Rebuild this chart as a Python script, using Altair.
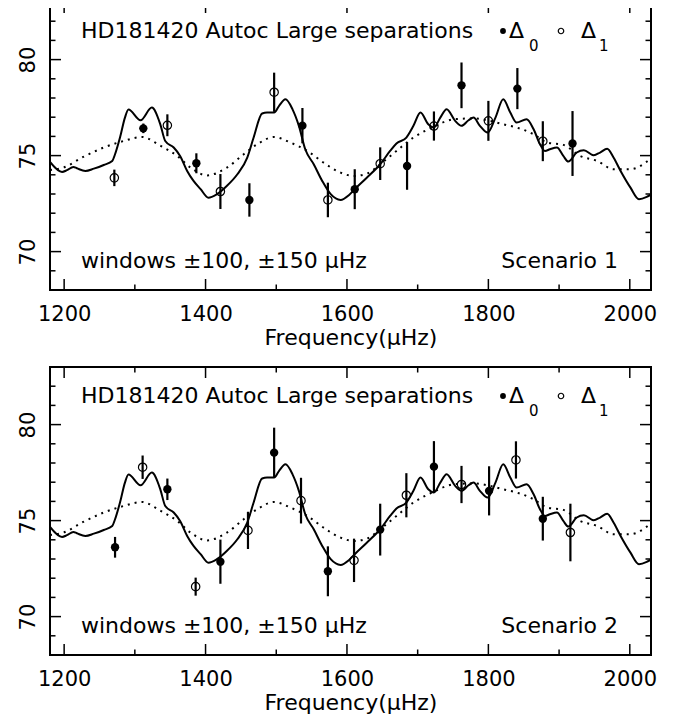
import altair as alt
import pandas as pd

# ---------------- data ----------------
solid_freq = [1180, 1197, 1204, 1213, 1218, 1230, 1242, 1256, 1268, 1272, 1279, 1286, 1291, 1308, 1324,
              1336, 1343, 1355, 1364, 1374, 1383, 1393, 1404, 1416, 1430, 1445, 1459, 1468, 1480, 1487,
              1497, 1504, 1513, 1523, 1532, 1541, 1553, 1565, 1577, 1591, 1603, 1611, 1628, 1647, 1661,
              1670, 1684, 1694, 1704, 1715, 1723, 1732, 1741, 1753, 1762, 1772, 1779, 1788, 1799, 1810,
              1821, 1831, 1840, 1854, 1864, 1873, 1880, 1887, 1897, 1906, 1913, 1925, 1935, 1949, 1958,
              1968, 1977, 1987, 2001, 2013, 2024, 2034]
solid_val = [74.67, 74.15, 74.24, 74.41, 74.34, 74.20, 74.32, 74.51, 74.72, 75.07, 75.94, 76.98, 77.40, 76.84, 77.50,
             76.63, 75.76, 75.42, 74.98, 74.20, 73.68, 73.25, 72.81, 72.99, 73.42, 74.03, 74.90, 75.94, 77.19, 77.24,
             77.24, 77.59, 77.93, 77.41, 76.55, 75.33, 74.55, 73.68, 72.99, 72.69, 72.95, 73.25, 73.85, 74.55, 75.24,
             75.63, 75.94, 76.55, 77.24, 76.63, 76.46, 76.98, 77.41, 76.81, 76.55, 76.84, 76.98, 76.55, 76.20, 76.98,
             77.93, 77.24, 76.72, 76.89, 76.37, 75.59, 75.24, 75.33, 75.42, 74.98, 74.69, 75.16, 75.28, 75.02, 75.16,
             75.36, 74.90, 74.20, 73.33, 72.73, 72.85, 73.07]

dotted_freq = [1180, 1199, 1227, 1256, 1284, 1310, 1336, 1360, 1379, 1402, 1430, 1454, 1473, 1497, 1520,
               1544, 1567, 1591, 1610, 1628, 1647, 1670, 1694, 1722, 1751, 1779, 1802, 1821, 1840, 1864,
               1883, 1906, 1930, 1954, 1977, 2001, 2015, 2031]
dotted_val = [74.25, 74.38, 74.93, 75.42, 75.76, 75.97, 75.52, 74.98, 74.37, 73.97, 74.37, 75.07, 75.59, 75.97, 75.68,
              75.24, 74.63, 74.11, 73.94, 74.06, 74.55, 75.24, 75.94, 76.49, 76.89, 76.94, 76.81, 76.63, 76.46, 76.11,
              75.68, 75.56, 74.98, 74.72, 74.29, 74.29, 74.46, 74.90]

# Scenario 1
s1_d0_freq = [1312, 1387, 1462, 1537, 1611, 1685, 1762, 1841, 1919]
s1_d0_val = [76.42, 74.60, 72.69, 76.56, 73.25, 74.46, 78.66, 78.49, 75.63]
s1_d0_err = [0.25, 0.52, 0.87, 0.92, 1.04, 1.24, 1.19, 1.07, 1.69]
s1_d1_freq = [1271, 1346, 1421, 1497, 1573, 1647, 1723, 1800, 1877]
s1_d1_val = [73.84, 76.58, 73.13, 78.30, 72.69, 74.58, 76.54, 76.81, 75.75]
s1_d1_err = [0.43, 0.57, 0.91, 1.02, 0.90, 0.85, 0.76, 1.04, 1.04]

# Scenario 2
s2_d0_freq = [1272, 1346, 1421, 1497, 1573, 1647, 1723, 1801, 1877]
s2_d0_val = [73.61, 76.63, 72.86, 78.54, 72.36, 74.53, 77.81, 76.55, 75.10]
s2_d0_err = [0.54, 0.56, 1.15, 1.30, 1.30, 1.35, 1.33, 1.28, 1.14]
s2_d1_freq = [1311, 1386, 1460, 1535, 1610, 1684, 1762, 1839, 1916]
s2_d1_val = [77.78, 71.56, 74.49, 76.04, 72.93, 76.32, 76.88, 78.16, 74.38]
s2_d1_err = [0.61, 0.47, 0.97, 1.19, 1.13, 1.15, 0.97, 0.97, 1.50]

x_major = [1200, 1400, 1600, 1800, 2000]
x_minor = [1300, 1500, 1700, 1900]
y_major = [70, 75, 80]
y_minor = [69, 71, 72, 73, 74, 76, 77, 78, 79, 81, 82]

title_text = "HD181420 Autoc Large separations"
window_text = "windows \u00b1100, \u00b1150 \u03bcHz"
x_title = "Frequency(\u03bcHz)"

# ---------------- layout constants ----------------
W, H = 601, 288
FONT = "DejaVu Sans"
xs = alt.Scale(domain=[1180, 2030], nice=False, zero=False)
ys = alt.Scale(domain=[68, 83], nice=False, zero=False)
MAJ, MIN = 11, 5.5

XAX = alt.Axis(values=x_major, title=x_title, ticks=False, tickSize=0, domain=False, grid=False,
               labelFontSize=21, labelFont=FONT, labelColor="black", labelPadding=30,
               labelBaseline="alphabetic", labelFlush=False, labelOverlap=False, format="d",
               titleFontSize=22, titleFont=FONT, titleFontWeight="normal", titleColor="black",
               titleY=54, titleBaseline="alphabetic")
YAX = alt.Axis(values=y_major, title=None, ticks=False, tickSize=0, domain=False, grid=False,
               labelAngle=270, labelAlign="center", labelBaseline="alphabetic", labelPadding=16,
               labelFontSize=21, labelFont=FONT, labelColor="black", labelOverlap=False)


def X(field="freq"):
    return alt.X(f"{field}:Q", scale=xs, axis=XAX)


def Y(field="val"):
    return alt.Y(f"{field}:Q", scale=ys, axis=YAX)


def text_layer(txt, x, y, size=22, align="left"):
    return alt.Chart(pd.DataFrame({"t": [txt]})).mark_text(
        align=align, baseline="alphabetic", font=FONT, fontSize=size, color="black"
    ).encode(text="t:N", x=alt.value(x), y=alt.value(y))


def panel(d0f, d0v, d0e, d1f, d1v, d1e, scen):
    solid = pd.DataFrame({"freq": solid_freq, "val": solid_val})
    dotted = pd.DataFrame({"freq": dotted_freq, "val": dotted_val})
    d0 = pd.DataFrame({"freq": d0f, "val": d0v, "err": d0e})
    d1 = pd.DataFrame({"freq": d1f, "val": d1v, "err": d1e})
    for d in (d0, d1):
        d["lo"] = d["val"] - d["err"]
        d["hi"] = d["val"] + d["err"]
    errs = pd.concat([d0, d1])

    line = alt.Chart(solid).mark_line(color="black", strokeWidth=2, interpolate="monotone", clip=True).encode(
        x=X(), y=Y())
    dots = alt.Chart(dotted).mark_line(color="black", strokeWidth=2, strokeDash=[2, 5],
                                       interpolate="monotone", clip=True).encode(x=X(), y=Y())
    bars = alt.Chart(errs).mark_rule(color="black", strokeWidth=2.2).encode(
        x=X(), y=Y("lo"), y2="hi:Q")
    filled = alt.Chart(d0).mark_circle(color="black", size=70, opacity=1).encode(x=X(), y=Y())
    opened = alt.Chart(d1).mark_point(shape="circle", filled=False, color="black", size=70,
                                      strokeWidth=1.2, opacity=1).encode(x=X(), y=Y())

    def xticks(vals, y0, y1):
        return alt.Chart(pd.DataFrame({"freq": vals})).mark_rule(color="black", strokeWidth=1.5).encode(
            x=X(), y=alt.value(y0), y2=alt.value(y1))

    def yticks(vals, x0, x1):
        return alt.Chart(pd.DataFrame({"val": vals})).mark_rule(color="black", strokeWidth=1.5).encode(
            y=Y(), x=alt.value(x0), x2=alt.value(x1))

    ticks = [
        xticks(x_major, H, H - MAJ), xticks(x_minor, H, H - MIN),
        xticks(x_major, 0, MAJ), xticks(x_minor, 0, MIN),
        yticks(y_major, 0, MAJ), yticks(y_minor, 0, MIN),
        yticks(y_major, W, W - MAJ), yticks(y_minor, W, W - MIN),
    ]

    leg_dot = alt.Chart(pd.DataFrame({"k": [0]})).mark_circle(color="black", size=34, opacity=1).encode(
        x=alt.value(453), y=alt.value(29))
    leg_ring = alt.Chart(pd.DataFrame({"k": [0]})).mark_point(shape="circle", filled=False, color="black",
                                                              size=30, strokeWidth=1.2, opacity=1).encode(
        x=alt.value(511), y=alt.value(29))

    texts = [
        text_layer(title_text, 31, 36),
        text_layer("\u0394", 459, 36),
        text_layer("0", 479, 49, size=15),
        text_layer("\u0394", 531, 36),
        text_layer("1", 549, 49, size=15),
        text_layer(window_text, 31, 266),
        text_layer("Scenario " + scen, 568, 266, align="right"),
    ]

    return alt.layer(line, dots, *ticks, bars, filled, opened, leg_dot, leg_ring, *texts).properties(
        width=W, height=H)


top = panel(s1_d0_freq, s1_d0_val, s1_d0_err, s1_d1_freq, s1_d1_val, s1_d1_err, "1")
bottom = panel(s2_d0_freq, s2_d0_val, s2_d0_err, s2_d1_freq, s2_d1_val, s2_d1_err, "2")

chart = alt.vconcat(top, bottom, spacing=77, bounds="flush").properties(
    padding={"left": 7, "top": -8, "right": 0, "bottom": 0}, background="white"
).configure_view(stroke="black", strokeWidth=2)

chart.save("out.html", embed_options={"renderer": "svg", "actions": False})
